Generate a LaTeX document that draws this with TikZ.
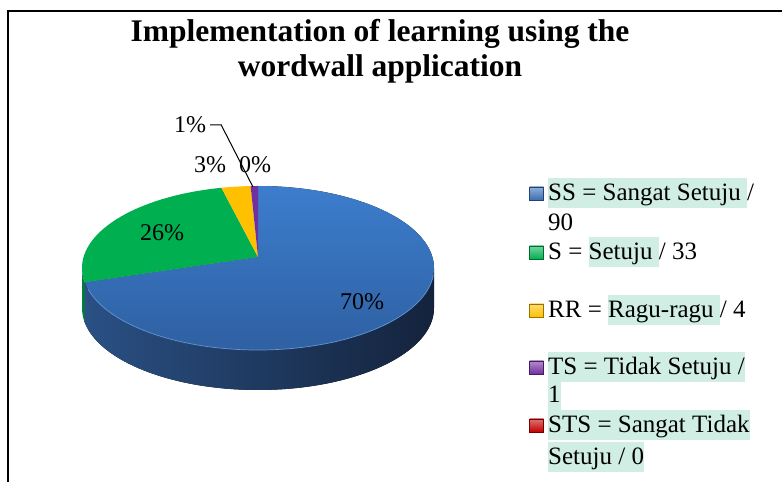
\documentclass[tikz,border=0pt]{standalone}
\usepackage{fontspec}
\setmainfont{Liberation Serif}
\definecolor{ssTop}{RGB}{60,125,205}
\definecolor{ssBot}{RGB}{46,95,160}
\definecolor{sideL}{RGB}{42,80,132}
\definecolor{sideR}{RGB}{20,35,60}
\definecolor{sGreen}{RGB}{0,176,80}
\definecolor{sGreenSide}{RGB}{0,125,58}
\definecolor{sYellow}{RGB}{255,192,0}
\definecolor{sPurple}{RGB}{112,48,160}
\definecolor{sRed}{RGB}{192,0,0}
\definecolor{sBlue}{RGB}{58,110,180}
\definecolor{hlc}{RGB}{208,238,228}
\newcommand\hl[1]{{\setlength{\fboxsep}{0pt}\colorbox{hlc}{\rule[-7pt]{0pt}{30pt}#1}}}
\begin{document}
\begin{tikzpicture}[x=1pt,y=1pt,
  title/.style={font=\bfseries\fontsize{31.5}{35}\selectfont, align=center, inner sep=0},
  pct/.style={font=\fontsize{24}{28}\selectfont, inner sep=1pt},
  leg/.style={font=\fontsize{25}{30}\selectfont, anchor=base west, inner sep=0},
  marker/.style={minimum width=14pt, minimum height=13pt, inner sep=0, line width=0.8pt},
  leader/.style={line width=1pt, black},
  er/.style={x radius=176, y radius=82}]
\useasboundingbox (0,0) rectangle (782,482);
% frame
\draw[line width=2pt] (8,-2) -- (8,471) -- (784,471);
% title
\node[title] (title) at (380,431) {Implementation of learning using the\\wordwall application};
% pie sides
\fill[left color=sideL, right color=sideR]
  ({258+176*cos(190)},{214+82*sin(190)}) arc[start angle=190, end angle=360, er]
  -- ++(0,-40) arc[start angle=360, end angle=190, er] -- cycle;
\fill[sGreenSide] (82,214) arc[start angle=180, end angle=190, er]
  -- ++(0,-40) arc[start angle=190, end angle=180, er] -- cycle;
% pie top
\coordinate (apex) at (258,225);
\fill[top color=ssTop, bottom color=ssBot] (apex) -- ({258+176*cos(-170)},{214+82*sin(-170)})
  arc[start angle=-170, end angle=90, er] -- cycle;
\fill[sGreen] (apex) -- ({258+176*cos(102)},{214+82*sin(102)})
  arc[start angle=102, end angle=190, er] -- cycle;
\fill[sYellow] (apex) -- ({258+176*cos(92.4)},{214+82*sin(92.4)})
  arc[start angle=92.4, end angle=102, er] -- cycle;
\fill[sPurple] (apex) -- (258,296)
  arc[start angle=90, end angle=92.4, er] -- cycle;
\draw[line width=0.7pt, ssTop!80!white] ({258+176*cos(195)},{214+82*sin(195)}) arc[start angle=195, end angle=355, er];
% pie labels
\node[pct] (p70) at (362,180) {70\%};
\node[pct] (p26) at (162,249) {26\%};
\node[pct] (p3) at (210,317) {3\%};
\node[pct] (p0) at (255,317) {0\%};
\node[pct] (p1) at (190,357) {1\%};
\coordinate (tsp) at (253,295);
\draw[leader] ([xshift=3pt]p1.east) -- ++(11,0) -- (tsp);
% legend markers
\node[marker, draw=sBlue!60!black, top color=sBlue!55!white, bottom color=sBlue] (mSS) at (536.5,288.5) {};
\node[marker, draw=sGreen!60!black, top color=sGreen!55!white, bottom color=sGreen] (mS) at (536.5,229.5) {};
\node[marker, draw=sYellow!60!black, top color=sYellow!55!white, bottom color=sYellow] (mRR) at (536.5,171.5) {};
\node[marker, draw=sPurple!60!black, top color=sPurple!55!white, bottom color=sPurple] (mTS) at (536.5,114.5) {};
\node[marker, draw=sRed!60!black, top color=sRed!55!white, bottom color=sRed] (mSTS) at (536.5,56.5) {};
% legend texts
\node[leg] (l1) at (548,281) {\hl{SS = Sangat Setuju\ }/};
\node[leg] (l2) at (548,251) {90};
\node[leg] (l3) at (548,222) {S = \hl{Setuju\ }/ 33};
\node[leg] (l4) at (548,164) {RR = \hl{Ragu-ragu\ }/ 4};
\node[leg] (l5) at (548,107) {\hl{TS = Tidak Setuju /}};
\node[leg] (l6) at (548,79) {\hl{1}};
\node[leg] (l7) at (548,49) {\hl{STS = Sangat Tidak}};
\node[leg] (l8) at (548,17) {\hl{Setuju / 0}};
\end{tikzpicture}
\end{document}
